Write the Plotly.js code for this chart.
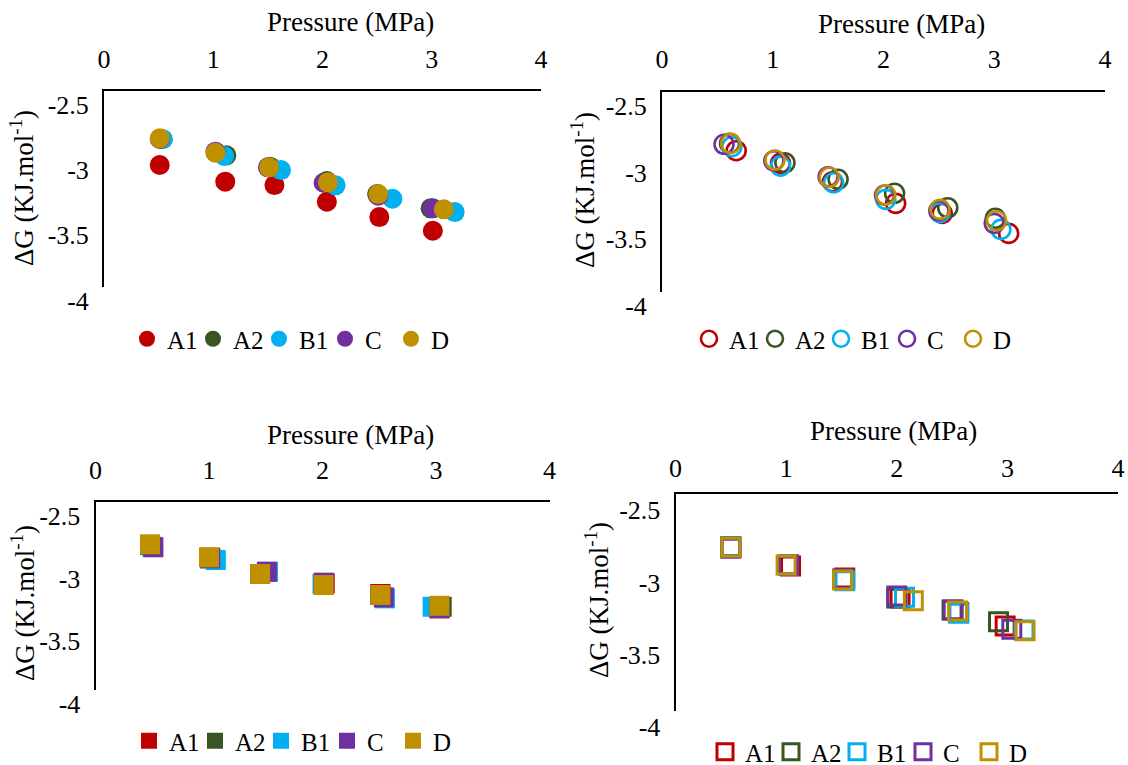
<!DOCTYPE html>
<html>
<head>
<meta charset="utf-8">
<script src="https://cdn.plot.ly/plotly-3.0.1.min.js"></script>
<style>html,body{margin:0;padding:0;background:#fff;overflow:hidden;}#chart{width:1128px;height:765px;}</style>
</head>
<body>
<div id="chart"></div>
<script>
// ---------- data ----------
const seriesNames = ['A1', 'A2', 'B1', 'C', 'D'];
const seriesColors = ['#C00000', '#375623', '#00B0F0', '#7030A0', '#BF9000'];
const xTickVals = [0, 1, 2, 3, 4];
const yTickVals = [-4, -3.5, -3, -2.5];
const yTickText = ['-4', '-3.5', '-3', '-2.5'];
const xTitle = 'Pressure (MPa)';
const yTitle = 'ΔG (KJ.mol<sup>-1</sup>)';

// Panel 1 (filled circles)
const p1_A1_x = [0.51, 1.11, 1.56, 2.04, 2.52, 3.01];
const p1_A1_y = [-3.069, -3.197, -3.223, -3.351, -3.468, -3.573];
const p1_A2_x = [0.52, 1.12, 1.52, 2.04, 2.50, 2.99];
const p1_A2_y = [-2.870, -2.995, -3.082, -3.192, -3.292, -3.401];
const p1_B1_x = [0.54, 1.10, 1.62, 2.12, 2.64, 3.21];
const p1_B1_y = [-2.872, -3.000, -3.108, -3.225, -3.328, -3.430];
const p1_C_x  = [0.51, 1.02, 1.50, 2.01, 2.51, 3.01];
const p1_C_y  = [-2.870, -2.967, -3.087, -3.205, -3.305, -3.401];
const p1_D_x  = [0.51, 1.02, 1.51, 2.05, 2.51, 3.11];
const p1_D_y  = [-2.865, -2.975, -3.087, -3.202, -3.292, -3.409];

// Panel 2 (open circles)
const p2_A1_x = [0.67, 1.07, 1.54, 2.11, 2.53, 3.13];
const p2_A1_y = [-2.942, -3.036, -3.174, -3.336, -3.411, -3.561];
const p2_A2_x = [0.61, 1.11, 1.59, 2.10, 2.58, 3.01];
const p2_A2_y = [-2.887, -3.032, -3.156, -3.261, -3.369, -3.448];
const p2_B1_x = [0.63, 1.07, 1.55, 2.02, 2.51, 3.06];
const p2_B1_y = [-2.912, -3.057, -3.182, -3.306, -3.406, -3.531];
const p2_C_x  = [0.56, 1.01, 1.50, 2.01, 2.50, 3.00];
const p2_C_y  = [-2.894, -3.017, -3.137, -3.274, -3.391, -3.486];
const p2_D_x  = [0.62, 1.02, 1.51, 2.02, 2.51, 3.02];
const p2_D_y  = [-2.887, -3.012, -3.141, -3.274, -3.381, -3.466];

// Panel 3 (filled squares)
const p3_A1_x = [0.48, 1.01, 1.45, 2.02, 2.51, 3.03];
const p3_A1_y = [-2.845, -2.946, -3.076, -3.150, -3.235, -3.349];
const p3_A2_x = [0.48, 1.01, 1.45, 2.01, 2.51, 3.05];
const p3_A2_y = [-2.845, -2.951, -3.076, -3.158, -3.243, -3.337];
const p3_B1_x = [0.50, 1.06, 1.52, 2.00, 2.55, 2.97];
const p3_B1_y = [-2.859, -2.965, -3.058, -3.156, -3.270, -3.337];
const p3_C_x  = [0.51, 1.01, 1.51, 2.01, 2.54, 3.03];
const p3_C_y  = [-2.863, -2.951, -3.058, -3.145, -3.262, -3.349];
const p3_D_x  = [0.48, 1.00, 1.45, 2.01, 2.51, 3.03];
const p3_D_y  = [-2.839, -2.943, -3.076, -3.164, -3.243, -3.329];

// Panel 4 (open squares)
const p4_A1_x = [0.50, 1.04, 1.53, 2.03, 2.56, 2.98];
const p4_A1_y = [-2.865, -2.996, -3.079, -3.218, -3.319, -3.411];
const p4_A2_x = [0.50, 1.02, 1.52, 2.00, 2.50, 2.92];
const p4_A2_y = [-2.863, -2.989, -3.088, -3.218, -3.301, -3.382];
const p4_B1_x = [0.50, 1.02, 1.53, 2.07, 2.56, 3.15];
const p4_B1_y = [-2.865, -2.989, -3.098, -3.213, -3.324, -3.439];
const p4_C_x  = [0.50, 1.02, 1.51, 2.00, 2.51, 3.04];
const p4_C_y  = [-2.874, -2.989, -3.086, -3.204, -3.301, -3.434];
const p4_D_x  = [0.50, 1.00, 1.51, 2.15, 2.55, 3.16];
const p4_D_y  = [-2.867, -2.989, -3.093, -3.236, -3.308, -3.444];

const panelX = [
  [p1_A1_x, p1_A2_x, p1_B1_x, p1_C_x, p1_D_x],
  [p2_A1_x, p2_A2_x, p2_B1_x, p2_C_x, p2_D_x],
  [p3_A1_x, p3_A2_x, p3_B1_x, p3_C_x, p3_D_x],
  [p4_A1_x, p4_A2_x, p4_B1_x, p4_C_x, p4_D_x]
];
const panelY = [
  [p1_A1_y, p1_A2_y, p1_B1_y, p1_C_y, p1_D_y],
  [p2_A1_y, p2_A2_y, p2_B1_y, p2_C_y, p2_D_y],
  [p3_A1_y, p3_A2_y, p3_B1_y, p3_C_y, p3_D_y],
  [p4_A1_y, p4_A2_y, p4_B1_y, p4_C_y, p4_D_y]
];

// ---------- styles / layout ----------
const W = 1128, H = 765;
const FONT = '"Liberation Serif", "Times New Roman", Times, serif';
const symbols = ['circle', 'circle-open', 'square', 'square-open'];
const sizes = [20, 19, 20, 18];
const lineW = [0, 2.6, 0, 3];
// pixel boxes: [left, right, top, bottom]
const boxes = [
  [104, 541, 90.7, 286.5],
  [662, 1105, 91.7, 292],
  [95.5, 549.5, 501.7, 690],
  [675.5, 1118, 494.3, 711]
];
const xStandoff = [10, 11, 10, 5];
const yShift = [14, 14, 14, 16];
const legendPos = [[292, 339], [854, 339], [294, 741], [870, 752]];
const xTitlePos = [[350, 22], [901, 24], [350, 435], [893, 431]];
const yTitlePos = [[22, 188], [583, 190], [23, 603], [597, 600]];

const traces = [];
const layout = {
  width: W, height: H,
  margin: {l: 0, r: 0, t: 0, b: 0, autoexpand: false},
  paper_bgcolor: '#fff', plot_bgcolor: 'rgba(0,0,0,0)',
  font: {family: FONT, size: 26, color: '#000'},
  showlegend: true,
  annotations: []
};

for (let p = 0; p < 4; p++) {
  const sfx = p === 0 ? '' : String(p + 1);
  const legId = 'legend' + sfx;
  for (let s = 0; s < 5; s++) {
    traces.push({
      type: 'scatter', mode: 'markers',
      name: seriesNames[s],
      x: panelX[p][s], y: panelY[p][s],
      xaxis: 'x' + sfx, yaxis: 'y' + sfx,
      legend: legId,
      marker: {
        symbol: symbols[p], size: sizes[p], color: seriesColors[s],
        line: {width: lineW[p], color: seriesColors[s]}
      },
      cliponaxis: false,
      hoverinfo: 'x+y+name'
    });
  }
  const b = boxes[p];
  layout['xaxis' + sfx] = {
    domain: [b[0] / W, b[1] / W], range: [0, 4], side: 'top',
    anchor: 'y' + sfx, showline: true, linecolor: '#000', linewidth: 2,
    showgrid: false, zeroline: false, ticks: '', tickvals: xTickVals, automargin: false,
    ticklabelstandoff: xStandoff[p], tickfont: {family: FONT, size: 26, color: '#000'}
  };
  layout['yaxis' + sfx] = {
    domain: [1 - b[3] / H, 1 - b[2] / H], range: [-4, -2.5],
    anchor: 'x' + sfx, showline: true, linecolor: '#000', linewidth: 2,
    showgrid: false, zeroline: false, ticks: '', tickvals: yTickVals, ticktext: yTickText,
    ticklabelshift: yShift[p], ticklabelstandoff: 8, automargin: false,
    tickfont: {family: FONT, size: 26, color: '#000'}
  };
  layout[legId] = {
    orientation: 'h', x: legendPos[p][0] / W, y: 1 - legendPos[p][1] / H,
    xanchor: 'center', yanchor: 'middle', xref: 'paper', yref: 'paper',
    font: {family: FONT, size: 25, color: '#000'}, bgcolor: 'rgba(0,0,0,0)',
    itemwidth: 30, entrywidth: 21, tracegroupgap: 0
  };
  layout.annotations.push({
    xref: 'paper', yref: 'paper', x: xTitlePos[p][0] / W, y: 1 - xTitlePos[p][1] / H,
    xanchor: 'center', yanchor: 'middle', showarrow: false, text: xTitle,
    font: {family: FONT, size: 27, color: '#000'}
  });
  layout.annotations.push({
    xref: 'paper', yref: 'paper', x: yTitlePos[p][0] / W, y: 1 - yTitlePos[p][1] / H,
    xanchor: 'center', yanchor: 'middle', showarrow: false, text: yTitle, textangle: -90,
    font: {family: FONT, size: 27, color: '#000'}
  });
}

Plotly.newPlot('chart', traces, layout, {displayModeBar: false});
</script>
</body>
</html>
